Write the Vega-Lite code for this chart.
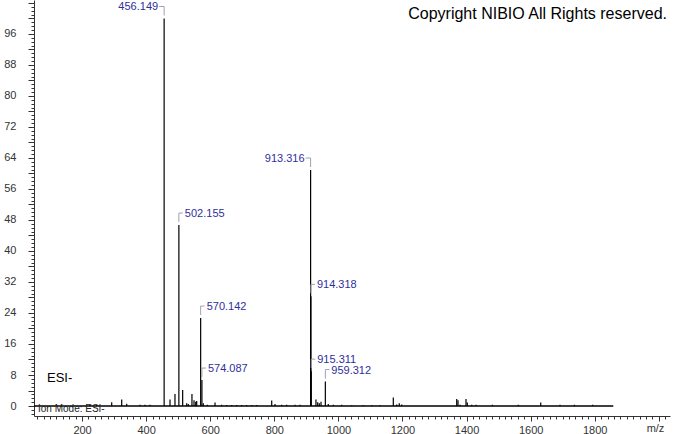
{
  "$schema": "https://vega.github.io/schema/vega-lite/v6.json",
  "width": 636,
  "height": 416,
  "autosize": {"type": "none"},
  "padding": {"left": 34, "top": 0, "right": 4, "bottom": 18},
  "background": "white",
  "config": {"view": {"stroke": null}, "font": "Liberation Sans"},
  "datasets": {
    "peaks": [
      {"mz": 224.8, "intensity": 0.3},
      {"mz": 245.7, "intensity": 0.3},
      {"mz": 292.5, "intensity": 1.0},
      {"mz": 323.7, "intensity": 1.7},
      {"mz": 339.3, "intensity": 0.6},
      {"mz": 380.8, "intensity": 0.3},
      {"mz": 396.4, "intensity": 0.3},
      {"mz": 412.0, "intensity": 0.3},
      {"mz": 456.149, "intensity": 100, "label": "456.149"},
      {"mz": 474.5, "intensity": 1.7},
      {"mz": 490.0, "intensity": 3.1},
      {"mz": 502.155, "intensity": 46.7, "label": "502.155"},
      {"mz": 514.0, "intensity": 4.1},
      {"mz": 526.6, "intensity": 0.7},
      {"mz": 531.6, "intensity": 0.5},
      {"mz": 543.0, "intensity": 3.1},
      {"mz": 549.4, "intensity": 1.5},
      {"mz": 554.7, "intensity": 1.1},
      {"mz": 557.8, "intensity": 1.3},
      {"mz": 570.142, "intensity": 22.7, "label": "570.142"},
      {"mz": 574.087, "intensity": 6.7, "label": "574.087"},
      {"mz": 578.4, "intensity": 0.7},
      {"mz": 590.9, "intensity": 0.3},
      {"mz": 615.0, "intensity": 0.9},
      {"mz": 635.8, "intensity": 0.3},
      {"mz": 651.4, "intensity": 0.25},
      {"mz": 667.0, "intensity": 0.25},
      {"mz": 682.6, "intensity": 0.25},
      {"mz": 698.3, "intensity": 0.25},
      {"mz": 713.9, "intensity": 0.25},
      {"mz": 729.5, "intensity": 0.25},
      {"mz": 745.1, "intensity": 0.25},
      {"mz": 791.9, "intensity": 1.4},
      {"mz": 802.2, "intensity": 0.5},
      {"mz": 823.1, "intensity": 0.3},
      {"mz": 838.7, "intensity": 0.3},
      {"mz": 864.6, "intensity": 0.3},
      {"mz": 880.2, "intensity": 0.3},
      {"mz": 913.316, "intensity": 60.9, "label": "913.316"},
      {"mz": 914.318, "intensity": 28.3, "label": "914.318"},
      {"mz": 915.311, "intensity": 9.0, "label": "915.311"},
      {"mz": 930.0, "intensity": 1.7},
      {"mz": 935.5, "intensity": 1.0},
      {"mz": 940.5, "intensity": 0.7},
      {"mz": 945.8, "intensity": 1.1},
      {"mz": 959.312, "intensity": 6.3, "label": "959.312"},
      {"mz": 968.5, "intensity": 0.5},
      {"mz": 984.2, "intensity": 0.3},
      {"mz": 1010.4, "intensity": 0.3},
      {"mz": 1041.6, "intensity": 0.2},
      {"mz": 1077.8, "intensity": 0.2},
      {"mz": 1104.0, "intensity": 0.2},
      {"mz": 1130.0, "intensity": 0.2},
      {"mz": 1171.4, "intensity": 2.2},
      {"mz": 1182.0, "intensity": 0.4},
      {"mz": 1190.0, "intensity": 0.7},
      {"mz": 1197.6, "intensity": 0.4},
      {"mz": 1369.3, "intensity": 1.8},
      {"mz": 1373.3, "intensity": 1.5},
      {"mz": 1379.6, "intensity": 0.3},
      {"mz": 1398.3, "intensity": 1.8},
      {"mz": 1402.4, "intensity": 0.9},
      {"mz": 1416.1, "intensity": 0.3},
      {"mz": 1429.5, "intensity": 0.3},
      {"mz": 1480.4, "intensity": 0.3},
      {"mz": 1561.5, "intensity": 0.3},
      {"mz": 1631.5, "intensity": 0.9},
      {"mz": 1691.7, "intensity": 0.3},
      {"mz": 1736.4, "intensity": 0.3},
      {"mz": 1793.7, "intensity": 0.3}
    ]
  },
  "encoding": {
    "x": {
      "field": "mz", "type": "quantitative",
      "scale": {"domain": [50, 2035], "nice": false, "zero": false},
      "axis": {
        "title": "m/z", "titleX": 621, "titleY": 12, "titleAlign": "center", "titleBaseline": "middle",
        "titleFontWeight": "normal", "titleFontSize": 11, "titleColor": "#333", "titleFont": "Liberation Sans",
        "values": [60,80,100,120,140,160,180,200,220,240,260,280,300,320,340,360,380,400,420,440,460,480,500,520,540,560,580,600,620,640,660,680,700,720,740,760,780,800,820,840,860,880,900,920,940,960,980,1000,1020,1040,1060,1080,1100,1120,1140,1160,1180,1200,1220,1240,1260,1280,1300,1320,1340,1360,1380,1400,1420,1440,1460,1480,1500,1520,1540,1560,1580,1600,1620,1640,1660,1680,1700,1720,1740,1760,1780,1800,1820,1840,1860,1880,1900,1920,1940,1960,1980,2000,2020],
        "labelExpr": "datum.value % 200 == 0 && datum.value <= 1800 ? datum.label : ''",
        "labelOverlap": false,
        "labelFlush": false,
        "format": "d",
        "tickSize": {"condition": {"test": "datum.value % 200 == 0", "value": 5}, "value": 3},
        "labelPadding": 3,
        "labelFontSize": 11, "labelColor": "#333", "labelFont": "Liberation Sans",
        "domainColor": "#333", "tickColor": "#333", "grid": false
      }
    },
    "y": {
      "field": "intensity", "type": "quantitative",
      "scale": {"domain": [-2.58, 104.77], "nice": false, "zero": false},
      "axis": {
        "title": null,
        "values": [-2,-1,0,1,2,3,4,5,6,7,8,9,10,11,12,13,14,15,16,17,18,19,20,21,22,23,24,25,26,27,28,29,30,31,32,33,34,35,36,37,38,39,40,41,42,43,44,45,46,47,48,49,50,51,52,53,54,55,56,57,58,59,60,61,62,63,64,65,66,67,68,69,70,71,72,73,74,75,76,77,78,79,80,81,82,83,84,85,86,87,88,89,90,91,92,93,94,95,96,97,98,99,100,101,102,103,104],
        "labelExpr": "datum.value % 8 == 0 && datum.value >= 0 && datum.value <= 96 ? datum.label : ''",
        "labelOverlap": false,
        "tickSize": {"condition": {"test": "datum.value % 4 == 0", "value": 6}, "value": 3},
        "labelPadding": 12,
        "labelFontSize": 11, "labelColor": "#333", "labelFont": "Liberation Sans",
        "domainColor": "#333", "tickColor": "#333", "grid": false
      }
    }
  },
  "layer": [
    {
      "data": {"values": [{"mz": 50, "mz_end": 1858, "intensity": 0}]},
      "mark": {"type": "rule", "color": "black", "strokeWidth": 1.3},
      "encoding": {
        "x2": {"field": "mz_end"}
      }
    },
    {
      "data": {"name": "peaks"},
      "mark": {"type": "rule", "color": "black", "strokeWidth": 1.2},
      "encoding": {
        "y2": {"datum": 0}
      }
    },
    {
      "data": {"name": "peaks"},
      "transform": [{"filter": "isValid(datum.label)"}],
      "mark": {"type": "rule", "color": "#a0a0b4", "strokeWidth": 1, "yOffset": -12, "y2Offset": -3},
      "encoding": {
        "y2": {"field": "intensity"}
      }
    },
    {
      "data": {"name": "peaks"},
      "transform": [{"filter": "isValid(datum.label) && datum.label != '456.149' && datum.label != '913.316'"}],
      "mark": {"type": "rule", "color": "#a0a0b4", "strokeWidth": 1, "yOffset": -12, "x2Offset": 4},
      "encoding": {
        "x2": {"field": "mz"}
      }
    },
    {
      "data": {"name": "peaks"},
      "transform": [{"filter": "datum.label == '456.149' || datum.label == '913.316'"}],
      "mark": {"type": "rule", "color": "#a0a0b4", "strokeWidth": 1, "yOffset": -12, "x2Offset": -5},
      "encoding": {
        "x2": {"field": "mz"}
      }
    },
    {
      "data": {"name": "peaks"},
      "transform": [{"filter": "isValid(datum.label) && datum.label != '456.149' && datum.label != '913.316'"}],
      "mark": {"type": "text", "align": "left", "baseline": "middle", "dx": 6, "dy": -11, "fontSize": 11, "font": "Liberation Sans", "color": "#2f2f9c"},
      "encoding": {
        "text": {"field": "label"}
      }
    },
    {
      "data": {"name": "peaks"},
      "transform": [{"filter": "datum.label == '456.149' || datum.label == '913.316'"}],
      "mark": {"type": "text", "align": "right", "baseline": "middle", "dx": -6, "dy": -11, "fontSize": 11, "font": "Liberation Sans", "color": "#2f2f9c"},
      "encoding": {
        "text": {"field": "label"}
      }
    },
    {
      "data": {"values": [{"mz": 2025.6, "intensity": 101.2, "note": "Copyright NIBIO All Rights reserved."}]},
      "mark": {"type": "text", "align": "right", "baseline": "middle", "fontSize": 16, "font": "Liberation Sans", "color": "black"},
      "encoding": {"text": {"field": "note"}}
    },
    {
      "data": {"values": [{"mz": 90.6, "intensity": 7.2, "note": "ESI-"}]},
      "mark": {"type": "text", "align": "left", "baseline": "middle", "fontSize": 13, "font": "Liberation Sans", "color": "black"},
      "encoding": {"text": {"field": "note"}}
    },
    {
      "data": {"values": [{"mz": 62.5, "intensity": -0.77, "note": "Ion Mode: ESI-"}]},
      "mark": {"type": "text", "align": "left", "baseline": "middle", "fontSize": 10, "font": "Liberation Sans", "color": "#222"},
      "encoding": {"text": {"field": "note"}}
    }
  ]
}
